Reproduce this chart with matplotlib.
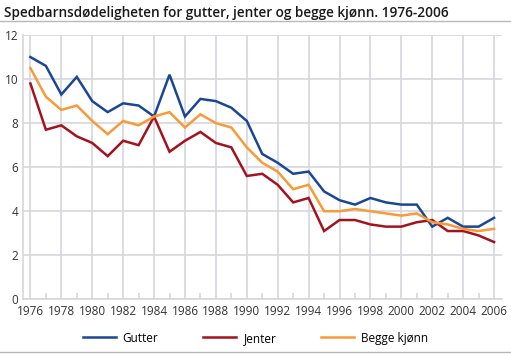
import matplotlib
matplotlib.use("Agg")
import matplotlib.pyplot as plt
from matplotlib.lines import Line2D

plt.rcParams['font.family'] = ['Open Sans', 'DejaVu Sans']

years = list(range(1976, 2007))
gutter = [11.0, 10.6, 9.3, 10.1, 9.0, 8.5, 8.9, 8.8, 8.3, 10.2, 8.3, 9.1, 9.0, 8.7, 8.1,
          6.6, 6.2, 5.7, 5.8, 4.9, 4.5, 4.3, 4.6, 4.4, 4.3, 4.3, 3.3, 3.7, 3.3, 3.3, 3.7]
jenter = [9.8, 7.7, 7.9, 7.4, 7.1, 6.5, 7.2, 7.0, 8.3, 6.7, 7.2, 7.6, 7.1, 6.9, 5.6,
          5.7, 5.2, 4.4, 4.6, 3.1, 3.6, 3.6, 3.4, 3.3, 3.3, 3.5, 3.6, 3.1, 3.1, 2.9, 2.6]
begge = [10.5, 9.2, 8.6, 8.8, 8.1, 7.5, 8.1, 7.9, 8.3, 8.5, 7.8, 8.4, 8.0, 7.8, 6.9,
         6.2, 5.8, 5.0, 5.2, 4.0, 4.0, 4.1, 4.0, 3.9, 3.8, 3.9, 3.5, 3.4, 3.2, 3.1, 3.2]
series = [("Gutter", gutter, "#1a4793"), ("Jenter", jenter, "#a3131f"), ("Begge kjønn", begge, "#f79a37")]

fig = plt.figure(figsize=(5.11, 3.54), dpi=100)
ax = fig.add_axes([0.0444, 0.1545, 0.9376, 0.7465])

for name, vals, col in series:
    ax.plot(years, vals, color=col, lw=1.8, label=name, solid_joinstyle='miter')

ax.set_xlim(1975.5, 2006.5)
ax.set_ylim(0, 12)
ax.set_xticks(range(1976, 2007, 2))
ax.set_xticks(range(1977, 2007, 2), minor=True)
ax.set_yticks(range(0, 13, 2))
ax.grid(True, color="#d6d7dd", lw=1.2)
ax.set_axisbelow(True)
ax.tick_params(axis='both', which='major', length=0, labelsize=8.5, colors="#333333", pad=3)
ax.tick_params(axis='x', which='minor', direction='in', length=4.5, color="#d6d7dd", width=1.2)
ax.tick_params(axis='x', which='major', pad=4)
for s in ['top', 'right']:
    ax.spines[s].set_visible(False)
for s in ['left', 'bottom']:
    ax.spines[s].set_color("#d6d7dd")
    ax.spines[s].set_linewidth(1.2)

fig.text(0.008, 0.962, "Spedbarnsdødeligheten for gutter, jenter og begge kjønn. 1976-2006",
         fontsize=9.8, fontweight='semibold', va='center', ha='left', color="#1a1a1a")
fig.add_artist(Line2D([0, 1], [0.94, 0.94], color="#b8b8b8", lw=1))
fig.add_artist(Line2D([0, 1], [0.006, 0.006], color="#b8b8b8", lw=1))

fig.legend(loc='center', bbox_to_anchor=(0.5, 0.045), ncol=3, frameon=False,
           fontsize=8.5, handlelength=2.8, columnspacing=3.8, handletextpad=0.6)

fig.savefig("out.png", dpi=100)
